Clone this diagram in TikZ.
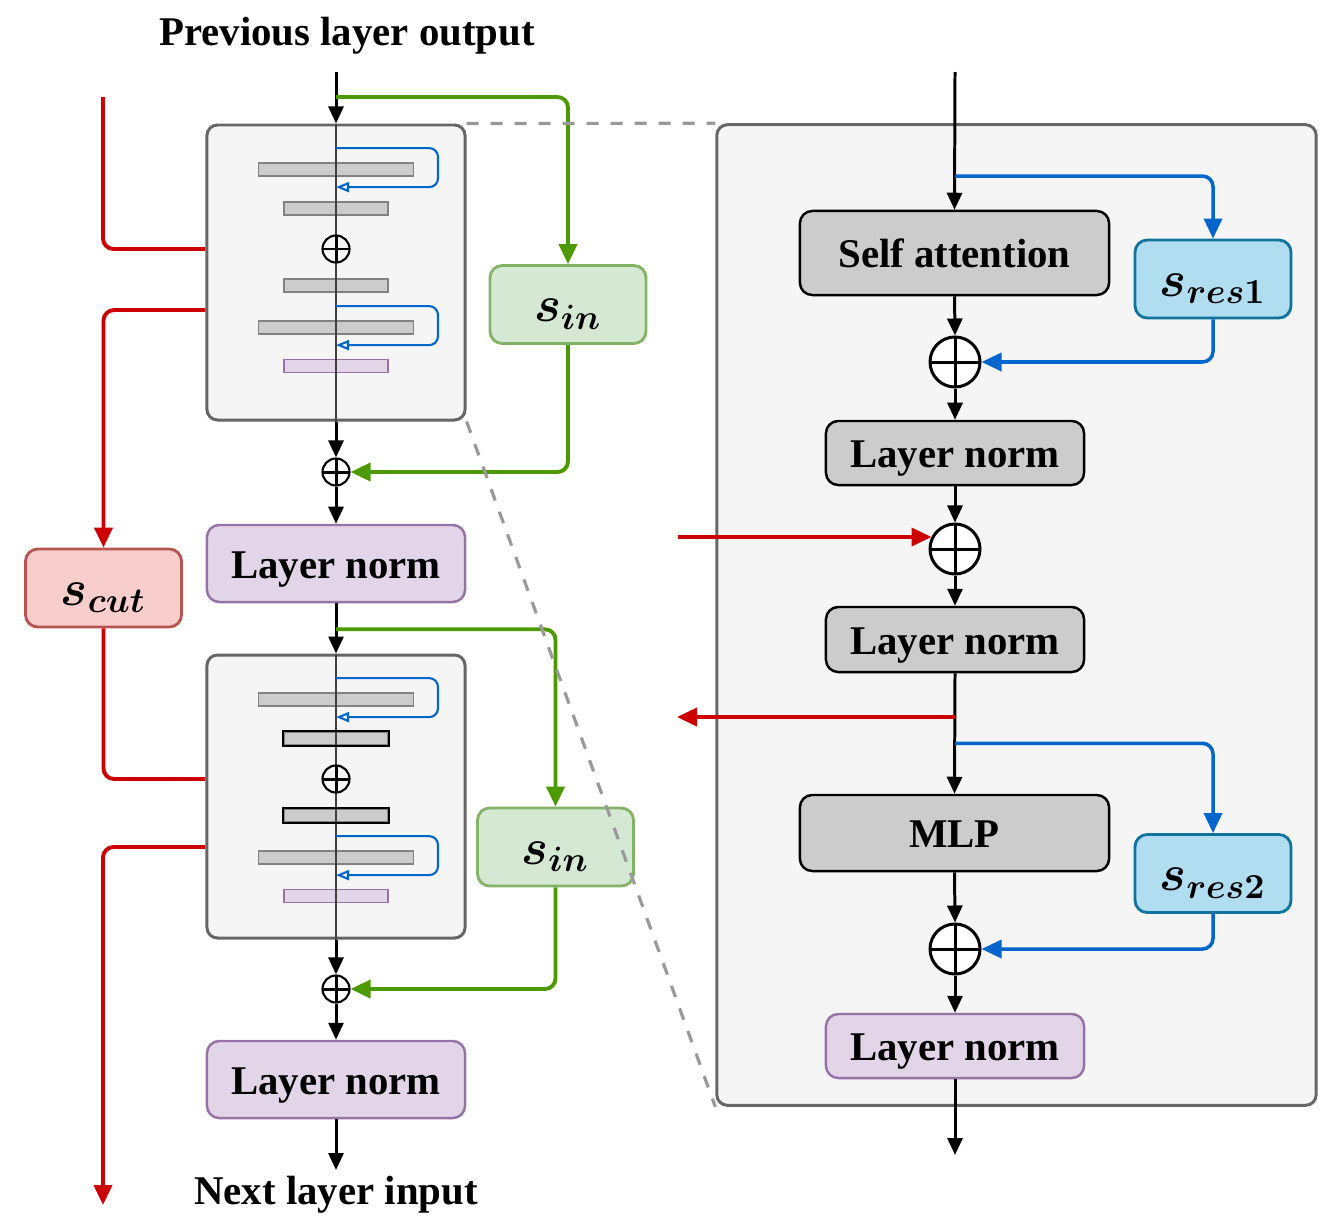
\documentclass[tikz,border=0pt]{standalone}
\usepackage[no-math]{fontspec}
\setmainfont{Liberation Serif}
\usetikzlibrary{arrows.meta,positioning,shapes.misc}
\definecolor{LyrBlockFill}{RGB}{245,245,245}
\definecolor{LyrBlockEdge}{RGB}{102,102,102}
\definecolor{LyrGrey}{RGB}{204,204,204}
\definecolor{LyrBarEdge}{RGB}{130,130,130}
\definecolor{LyrPurple}{RGB}{225,213,231}
\definecolor{LyrPurpleEdge}{RGB}{150,115,166}
\definecolor{LyrGreenFill}{RGB}{213,232,212}
\definecolor{LyrGreenEdge}{RGB}{130,179,102}
\definecolor{LyrGreen}{RGB}{77,153,0}
\definecolor{LyrRedFill}{RGB}{248,206,204}
\definecolor{LyrRedEdge}{RGB}{184,84,80}
\definecolor{LyrRed}{RGB}{204,0,0}
\definecolor{LyrBlueFill}{RGB}{177,221,240}
\definecolor{LyrBlueEdge}{RGB}{16,115,158}
\definecolor{LyrBlue}{RGB}{0,102,204}
\definecolor{LyrDash}{RGB}{153,153,153}
\tikzset{
  lyr/block/.style={
    draw=LyrBlockEdge,
    line width=0.85pt,
    rounded corners=3pt,
    fill=LyrBlockFill,
    minimum width=2.58cm
  },
  lyr/box/.style={
    draw=black,
    line width=0.7pt,
    rounded corners=3.5pt,
    fill=LyrGrey,
    align=center,
    inner sep=0pt,
    text height=0.29cm,
    text depth=0pt,
    font=\bfseries\fontsize{11.6}{13}\selectfont
  },
  lyr/norm/.style={lyr/box, draw=LyrPurpleEdge, fill=LyrPurple},
  lyr/scale/.style={
    line width=0.8pt,
    rounded corners=3.5pt,
    minimum width=1.56cm,
    minimum height=0.78cm,
    inner sep=0pt,
    text height=0.34cm,
    text depth=0pt,
    font=\boldmath\fontsize{14.4}{16}\selectfont
  },
  lyr/sin/.style={lyr/scale, draw=LyrGreenEdge, fill=LyrGreenFill},
  lyr/scut/.style={lyr/scale, draw=LyrRedEdge, fill=LyrRedFill},
  lyr/sres/.style={lyr/scale, draw=LyrBlueEdge, fill=LyrBlueFill},
  lyr/add/.style={
    circle, draw=black, fill=white, line width=0.85pt, minimum size=0.5cm, inner sep=0pt,
    path picture={
      \draw[line width=0.85pt] (path picture bounding box.north) -- (path picture bounding box.south)
        (path picture bounding box.west) -- (path picture bounding box.east);
    }
  },
  lyr/smalladd/.style={lyr/add, minimum size=0.27cm, line width=0.6pt},
  lyr/bar/.style={inner sep=0pt, minimum height=0.13cm, line width=0.5pt},
  lyr/spine/.style={line width=0.45pt, draw=black!75},
  lyr/arrow/.style={-{Triangle[length=0.17cm,width=0.15cm]}, line width=0.85pt, draw=black},
  lyr/red/.style={line width=1.1pt, draw=LyrRed, rounded corners=3pt},
  lyr/redarrow/.style={lyr/red, -{Triangle[length=0.2cm,width=0.18cm]}},
  lyr/greenarrow/.style={line width=1.1pt, draw=LyrGreen, rounded corners=3pt, -{Triangle[length=0.2cm,width=0.18cm]}},
  lyr/bluearrow/.style={line width=1pt, draw=LyrBlue, rounded corners=3pt, -{Triangle[length=0.2cm,width=0.18cm]}},
  lyr/loop/.style={line width=0.6pt, draw=LyrBlue, rounded corners=2.5pt, -{Triangle[open,length=0.13cm,width=0.1cm]}},
  lyr/zoomline/.style={dash pattern=on 0.12cm off 0.12cm, line width=0.9pt, draw=LyrDash},
  lyr/label/.style={font=\bfseries\fontsize{11.6}{13}\selectfont}
}
\begin{document}
\begin{tikzpicture}[x=0.01cm,y=-0.01cm]
  \useasboundingbox (0,0) rectangle (1328,1230);

  % left column: two stacked layers
  \node[lyr/label] (prevlbl) at (347,36) {Previous layer output};
  \coordinate (prevout) at (336,72);
  \foreach \b/\t/\h in {1/125/295,2/655/283}{
    \node[lyr/block,minimum height={\h*0.01cm}] (blk\b) at (336,\t+\h/2) {};
    \foreach \n/\dy/\w/\f/\e in {a/44.5/1.55/LyrGrey/LyrBarEdge,b/83.5/1.04/LyrGrey/LyrBarEdge,
                                  c/160.5/1.04/LyrGrey/LyrBarEdge,d/202.5/1.55/LyrGrey/LyrBarEdge,
                                  e/241/1.04/LyrPurple/LyrPurpleEdge}{
      \node[lyr/bar,minimum width=\w cm,fill=\f,draw=\e] (b\b-\n) at (336,\t+\dy) {};
    }
    \draw[lyr/spine] (blk\b.north) -- (blk\b.south);
    \node[lyr/smalladd,fill=LyrBlockFill] (b\b-plus) at (336,\t+124) {};
    \draw[lyr/loop] ([yshift=0.14cm]b\b-a.north) -- ++(102,0) -- ++(0,39) -- ++(-102,0);
    \draw[lyr/loop] ([yshift=0.14cm]b\b-d.north) -- ++(102,0) -- ++(0,39) -- ++(-102,0);
  }
  % darker edges on the middle bars of the lower layer
  \draw[line width=0.5pt] (b2-b.south west) rectangle (b2-b.north east)
                          (b2-c.south west) rectangle (b2-c.north east);
  \node[lyr/smalladd] (add1) at (336,472) {};
  \node[lyr/norm,minimum width=2.58cm,minimum height=0.77cm] (ln1) at (336,563.5) {Layer norm};
  \node[lyr/smalladd] (add2) at (336,989) {};
  \node[lyr/norm,minimum width=2.58cm,minimum height=0.77cm] (ln2) at (336,1079.5) {Layer norm};
  \coordinate (nextin) at (336,1170);
  \node[lyr/label] (nextlbl) at (336,1195) {Next layer input};

  \node[lyr/sin] (sin1) at (568,304.5) {$s_{in}$};
  \node[lyr/sin] (sin2) at (555.5,847) {$s_{in}$};
  \node[lyr/scut] (scut) at (103.5,588) {$s_{cut}$};

  \draw[lyr/arrow] (prevout) -- (blk1.north);
  \draw[lyr/arrow] (blk1.south) -- (add1.north);
  \draw[lyr/arrow] (add1.south) -- (ln1.north);
  \draw[lyr/arrow] (ln1.south) -- (blk2.north);
  \draw[lyr/arrow] (blk2.south) -- (add2.north);
  \draw[lyr/arrow] (add2.south) -- (ln2.north);
  \draw[lyr/arrow] (ln2.south) -- (nextin);

  \draw[lyr/greenarrow] ([yshift=-0.25cm]prevout) -| (sin1.north);
  \draw[lyr/greenarrow] (sin1.south) |- (add1.east);
  \draw[lyr/greenarrow] ([yshift=-0.26cm]ln1.south) -| (sin2.north);
  \draw[lyr/greenarrow] (sin2.south) |- (add2.east);

  \coordinate (redin) at (103,97);
  \coordinate (redout) at (103,1205);
  \draw[lyr/red] (redin) |- (b1-plus -| blk1.west);
  \draw[lyr/redarrow] ([yshift=-0.375cm]blk1.west) -| (scut.north);
  \draw[lyr/red] (scut.south) |- (b2-plus -| blk2.west);
  \draw[lyr/redarrow] (sin2 -| blk2.west) -| (redout);

  % zoomed view of one layer
  \node[lyr/block,minimum width=5.99cm,minimum height=9.8cm] (zoom) at (1016.5,615) {};
  \draw[lyr/zoomline] (blk1.north east) -- (zoom.north west);
  \draw[lyr/zoomline] (blk1.south east) -- (zoom.south west);

  \coordinate (rin) at (955,72);
  \node[lyr/box,minimum width=3.09cm,minimum height=0.84cm] (attn) at (954.5,253) {Self attention};
  \node[lyr/sres] (res1) at (1213,279) {$s_{res1}$};
  \node[lyr/add] (radd1) at (955,362) {};
  \node[lyr/box,minimum width=2.58cm,minimum height=0.64cm] (rln1) at (955,453) {Layer norm};
  \node[lyr/add] (radd2) at (955,549) {};
  \node[lyr/box,minimum width=2.58cm,minimum height=0.65cm] (rln2) at (955,639.5) {Layer norm};
  \node[lyr/box,minimum width=3.09cm,minimum height=0.76cm] (mlp) at (954.5,833) {MLP};
  \node[lyr/sres] (res2) at (1213,873.5) {$s_{res2}$};
  \node[lyr/add] (radd3) at (955,949) {};
  \node[lyr/norm,minimum width=2.58cm,minimum height=0.64cm] (rln3) at (955,1046) {Layer norm};
  \coordinate (rout) at (955,1155);
  \coordinate (redr1) at (678,537);
  \coordinate (redr2) at (677,717);

  \draw[lyr/arrow] (rin) -- (attn.north);
  \draw[lyr/bluearrow] ([yshift=-1.04cm]rin) -| (res1.north);
  \draw[lyr/arrow] (attn.south) -- (radd1.north);
  \draw[lyr/bluearrow] (res1.south) |- (radd1.east);
  \draw[lyr/arrow] (radd1.south) -- (rln1.north);
  \draw[lyr/arrow] (rln1.south) -- (radd2.north);
  \draw[lyr/redarrow] (redr1) -- ([xshift=0.03cm]redr1 -| radd2.west);
  \draw[lyr/arrow] (radd2.south) -- (rln2.north);
  \draw[lyr/arrow] (rln2.south) -- (mlp.north);
  \draw[lyr/redarrow] (rln2.south |- redr2) -- (redr2);
  \draw[lyr/bluearrow] ([yshift=-0.7cm]rln2.south) -| (res2.north);
  \draw[lyr/arrow] (mlp.south) -- (radd3.north);
  \draw[lyr/bluearrow] (res2.south) |- (radd3.east);
  \draw[lyr/arrow] (radd3.south) -- (rln3.north);
  \draw[lyr/arrow] (rln3.south) -- (rout);
\end{tikzpicture}
\end{document}
